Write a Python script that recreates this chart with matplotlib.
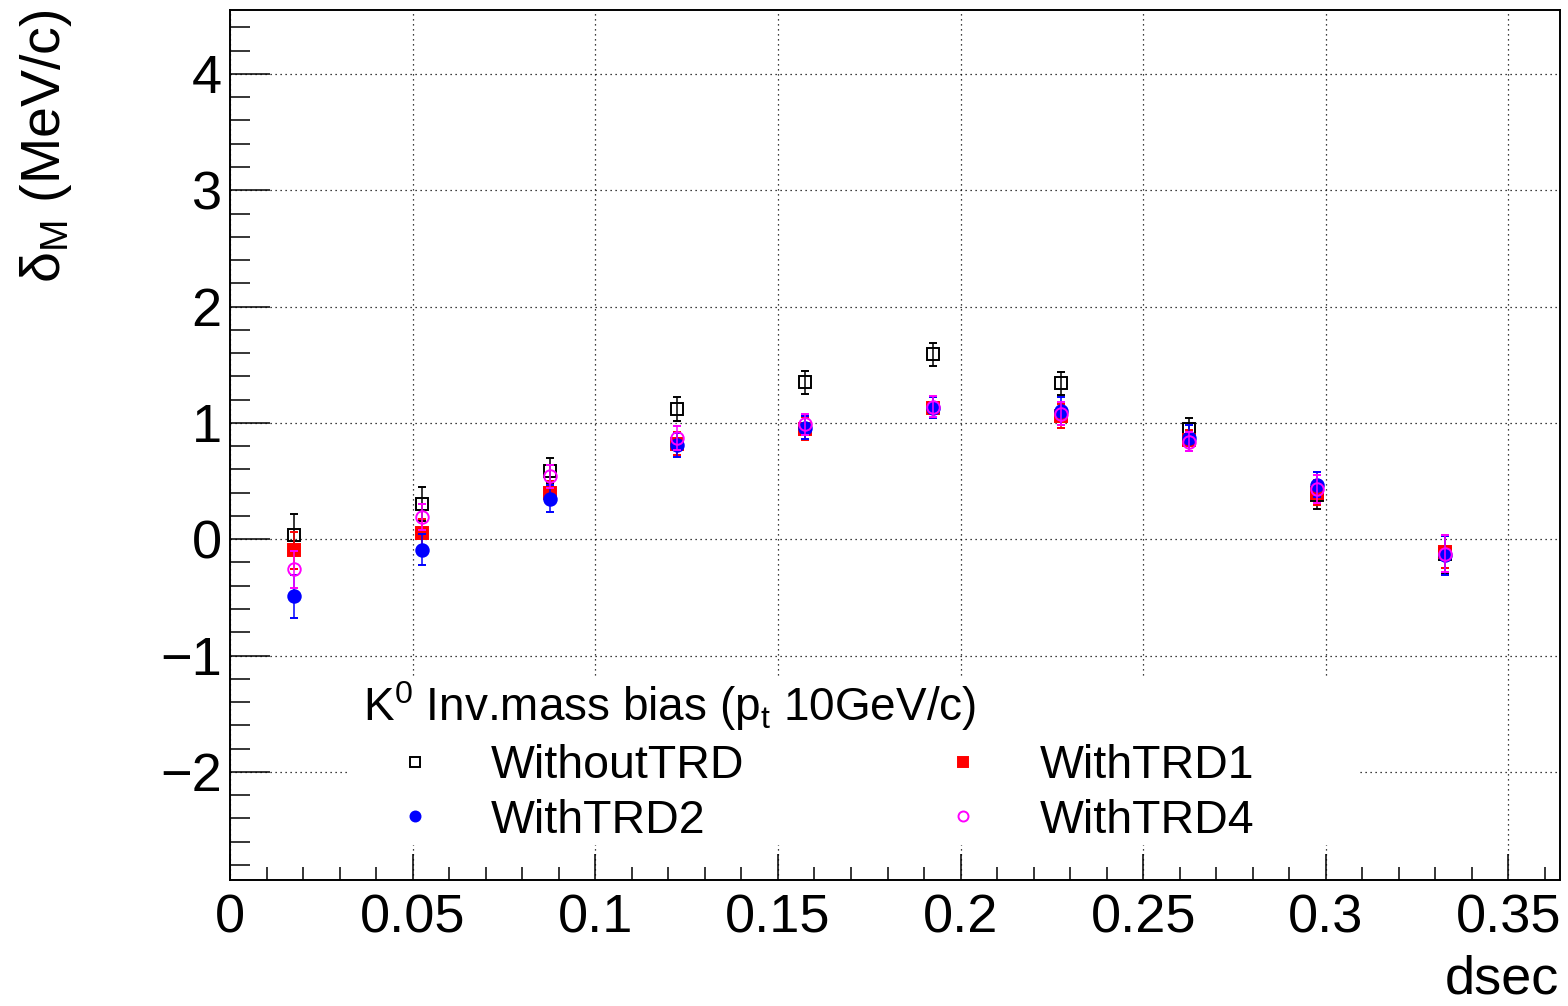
import numpy as np
import matplotlib
matplotlib.use('Agg')
import matplotlib.pyplot as plt
from matplotlib.ticker import MultipleLocator
from matplotlib.patches import Rectangle

plt.rcParams['font.family'] = ['Liberation Sans', 'DejaVu Sans']
plt.rcParams['mathtext.fontset'] = 'custom'
plt.rcParams['mathtext.rm'] = 'Liberation Sans'
plt.rcParams['mathtext.it'] = 'Liberation Sans:italic'

# bin centres in dsec
dsec = [0.0175, 0.0525, 0.0875, 0.1225, 0.1575, 0.1925, 0.2275, 0.2625, 0.2975, 0.3325]

# mass bias (MeV/c) per configuration
without = [0.04, 0.30, 0.59, 1.12, 1.35, 1.59, 1.34, 0.95, 0.38, -0.13]
without_err = [0.18, 0.145, 0.11, 0.10, 0.10, 0.10, 0.10, 0.09, 0.12, 0.17]

trd1 = [-0.095, 0.05, 0.40, 0.82, 0.95, 1.13, 1.06, 0.85, 0.40, -0.11]
trd1_err = [0.16, 0.12, 0.10, 0.10, 0.10, 0.09, 0.10, 0.09, 0.11, 0.14]

trd2 = [-0.49, -0.09, 0.35, 0.81, 0.96, 1.13, 1.10, 0.87, 0.47, -0.14]
trd2_err = [0.185, 0.135, 0.115, 0.10, 0.10, 0.09, 0.12, 0.11, 0.11, 0.17]

trd4 = [-0.26, 0.19, 0.54, 0.87, 0.99, 1.14, 1.08, 0.84, 0.43, -0.125]
trd4_err = [0.16, 0.11, 0.10, 0.10, 0.09, 0.09, 0.10, 0.08, 0.12, 0.16]

fig = plt.figure(figsize=(15.68, 10.06), dpi=100)
ax = fig.add_axes([230/1568, 1 - 880/1006, 1330/1568, 870/1006])

series = [
    ('WithoutTRD', without, without_err, 's', 'black', 'none'),
    ('WithTRD1', trd1, trd1_err, 's', 'red', 'red'),
    ('WithTRD2', trd2, trd2_err, 'o', 'blue', 'blue'),
    ('WithTRD4', trd4, trd4_err, 'o', 'magenta', 'none'),
]
handles = {}
for i, (name, vals, errs, mk, col, fc) in enumerate(series):
    h = ax.errorbar(dsec, vals, yerr=errs, fmt=mk, color=col, mfc=fc, mec=col,
                    ms=9, mew=1.4, elinewidth=1.1, capsize=2.6, capthick=1.1,
                    zorder=4 + i, label=name)
    handles[name] = h[0]

ax.set_xlim(0, 0.3641)
ax.set_ylim(-2.93, 4.55)
ax.xaxis.set_minor_locator(MultipleLocator(0.01))
ax.yaxis.set_major_locator(MultipleLocator(1))
ax.yaxis.set_minor_locator(MultipleLocator(0.2))
ax.set_xticks([0, 0.05, 0.1, 0.15, 0.2, 0.25, 0.3, 0.35])
ax.set_xticklabels(['0', '0.05', '0.1', '0.15', '0.2', '0.25', '0.3', '0.35'])
ax.tick_params(which='both', direction='in', top=False, right=False, width=1.1)
ax.tick_params(axis='y', which='major', length=29, labelsize=39, pad=6)
ax.tick_params(axis='y', which='minor', length=14.5)
ax.tick_params(axis='x', which='major', length=19, labelsize=39, pad=10)
ax.tick_params(axis='x', which='minor', length=9.5)
for s in ax.spines.values():
    s.set_linewidth(1.4)

ax.grid(True, which='major', color='black', linestyle=(0, (1, 3)), linewidth=0.9)
ax.set_axisbelow(True)

fig.text(46/1568, 1 - 10/1006, r'$\mathrm{δ}_{\mathrm{M}}$ (MeV/c)', rotation=90,
         ha='center', va='top', fontsize=40)
fig.text(1559/1568, 1 - 994/1006, 'dsec', ha='right', va='baseline', fontsize=39)

# white legend box over the grid
ax.add_patch(Rectangle((117/1330, 35/870), 1013/1330, 168/870, transform=ax.transAxes,
                       facecolor='white', edgecolor='none', zorder=2))

names = ['WithoutTRD', 'WithTRD2', 'WithTRD1', 'WithTRD4']
leg = ax.legend([handles[n] for n in names], names,
                ncol=2, loc='lower left', bbox_to_anchor=(131/1330, 35/870),
                frameon=False, fontsize=33.5, markerscale=0.8,
                title=r'K$^{0}$ Inv.mass bias (p$_{\mathrm{t}}$ 10GeV/c)', title_fontsize=33,
                alignment='left', handlelength=2.2, handletextpad=0.55,
                columnspacing=3.6, labelspacing=0.23, borderpad=0.05, borderaxespad=0)
leg.set_zorder(10)

fig.savefig('out.png', dpi=100)
